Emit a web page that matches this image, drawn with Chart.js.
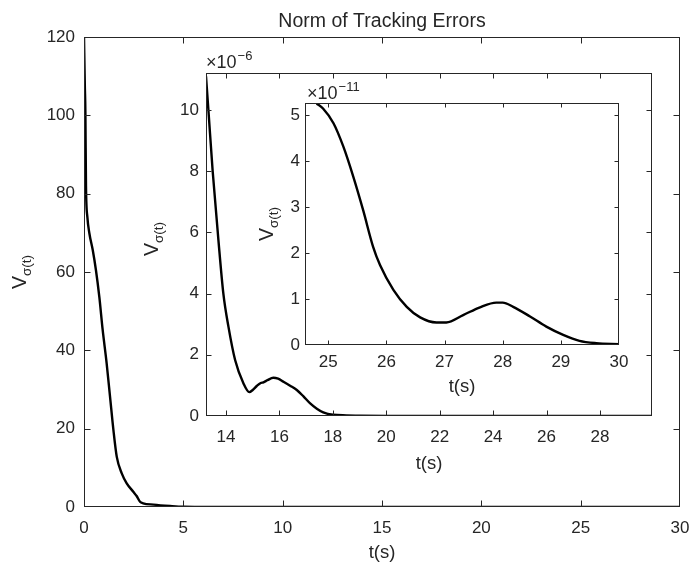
<!DOCTYPE html>
<html><head><meta charset="utf-8">
<script src="https://cdn.jsdelivr.net/npm/chart.js@4.4.0/dist/chart.umd.min.js"></script>
<style>
html,body{margin:0;padding:0;background:#fff;}
#wrap{position:relative;width:689px;height:565px;overflow:hidden;background:#fff;}
canvas{position:absolute;}
</style></head><body>
<div id="wrap">
<canvas id="c0" width="689" height="565" style="left:0px;top:0px"></canvas>
<canvas id="c1" width="540" height="440" style="left:120px;top:45px"></canvas>
<canvas id="c2" width="385" height="325" style="left:250px;top:75px"></canvas>
</div>
<script>
// ---------- data ----------
const titleText = 'Norm of Tracking Errors';
const xLabel = 't(s)';
const yLabelMain = 'V';
const yLabelSub = 'σ(t)';

// main plot
const mainT = [0, 0.04, 0.07, 0.1, 0.17, 0.27, 0.44, 0.6, 0.77, 0.94, 1.14, 1.31, 1.48, 1.65, 1.9, 2.15, 2.48, 2.65, 2.82, 2.98, 3.5, 4.33, 5, 6, 8, 10, 15, 20, 25, 30];
const mainV = [120, 108, 100.6, 82, 74, 69.9, 65.6, 60.5, 53.7, 45.2, 36.7, 28.2, 19.7, 12.8, 8.6, 6.05, 3.9, 2.8, 1.35, 0.94, 0.6, 0.25, 0.05, 0.01, 0, 0, 0, 0, 0, 0];
const mainXTicks = [0, 5, 10, 15, 20, 25, 30];
const mainYTicks = [0, 20, 40, 60, 80, 100, 120];

// inset 1 (x 1e-6)
const in1T = [13.25, 13.34, 13.5, 13.71, 13.9, 14.09, 14.34, 14.65, 14.87, 15.0, 15.15, 15.3, 15.4, 15.55, 15.77, 15.95, 16.15, 16.4, 16.65, 16.9, 17.14, 17.4, 17.64, 18.0, 18.5, 19, 20, 22, 24, 26, 28, 30];
const in1V = [11.1, 10.0, 8.0, 5.8, 4.0, 2.92, 1.83, 1.07, 0.78, 0.85, 0.98, 1.08, 1.1, 1.17, 1.25, 1.22, 1.12, 0.99, 0.85, 0.64, 0.42, 0.24, 0.12, 0.04, 0.02, 0.012, 0.005, 0.001, 0, 0, 0, 0];
const in1XTicks = [14, 16, 18, 20, 22, 24, 26, 28];
const in1YTicks = [0, 2, 4, 6, 8, 10];
const in1Exp = '−6';

// inset 2 (x 1e-11)
const in2T = [24.8, 24.91, 25.09, 25.26, 25.43, 25.6, 25.77, 25.89, 26.12, 26.35, 26.58, 26.86, 27.03, 27.32, 27.61, 27.89, 28.0, 28.18, 28.47, 28.75, 29.04, 29.32, 29.61, 30];
const in2V = [5.25, 5.14, 4.82, 4.31, 3.66, 2.93, 2.14, 1.74, 1.2, 0.83, 0.6, 0.49, 0.49, 0.65, 0.82, 0.92, 0.92, 0.83, 0.62, 0.4, 0.22, 0.09, 0.04, 0.02];
const in2XTicks = [25, 26, 27, 28, 29, 30];
const in2YTicks = [0, 1, 2, 3, 4, 5];
const in2Exp = '−11';

// ---------- style ----------
const FONT = '"Liberation Sans", Arial, Helvetica, sans-serif';
const INK = '#262626';

const decoPlugin = {
  id: 'deco',
  beforeDraw(chart) {
    const a = chart.chartArea, c = chart.ctx;
    c.save(); c.fillStyle = '#fff';
    c.fillRect(a.left, a.top, a.right - a.left, a.bottom - a.top);
    c.restore();
  },
  afterDraw(chart, args, o) {
    const a = chart.chartArea, c = chart.ctx, xs = chart.scales.x, ys = chart.scales.y;
    c.save();
    c.strokeStyle = INK; c.lineWidth = 1;
    const L = Math.round(a.left) + 0.5, R = Math.round(a.right) - 0.5;
    const T = Math.round(a.top) + 0.5, B = Math.round(a.bottom) - 0.5;
    const clamp = (v, lo, hi) => Math.min(hi, Math.max(lo, v));
    c.beginPath();
    xs.ticks.forEach(t => {
      const p = clamp(Math.round(xs.getPixelForValue(t.value)) + 0.5, L, R);
      c.moveTo(p, B); c.lineTo(p, B - o.tl);
      c.moveTo(p, T); c.lineTo(p, T + o.tl);
    });
    ys.ticks.forEach(t => {
      const p = clamp(Math.round(ys.getPixelForValue(t.value)) + 0.5, T, B);
      c.moveTo(L, p); c.lineTo(L + o.tl, p);
      c.moveTo(R, p); c.lineTo(R - o.tl, p);
    });
    c.stroke();
    c.strokeRect(L, T, R - L, B - T);
    c.fillStyle = INK;
    const ox = o.ox, oy = o.oy;
    if (o.title) {
      c.font = '19.5px ' + FONT; c.textAlign = 'center'; c.textBaseline = 'alphabetic';
      c.fillText(o.title.text, o.title.x - ox, o.title.y - oy);
    }
    if (o.xlabel) {
      c.font = '18.5px ' + FONT; c.textAlign = 'center'; c.textBaseline = 'alphabetic';
      c.fillText(xLabel, o.xlabel.x - ox, o.xlabel.y - oy);
    }
    if (o.ylabel) {
      c.save();
      c.translate(o.ylabel.x - ox, o.ylabel.y - oy);
      c.rotate(-Math.PI / 2);
      c.textAlign = 'left'; c.textBaseline = 'alphabetic';
      c.font = '19.5px ' + FONT; const wV = c.measureText(yLabelMain).width;
      c.font = '13.5px ' + FONT; const wS = c.measureText(yLabelSub).width;
      const s = -(wV + wS) / 2;
      c.font = '19.5px ' + FONT; c.fillText(yLabelMain, s, 0);
      c.font = '13.5px ' + FONT; c.fillText(yLabelSub, s + wV, 5);
      c.restore();
    }
    if (o.exp) {
      c.textAlign = 'left'; c.textBaseline = 'alphabetic';
      c.font = '18px ' + FONT;
      const x0 = o.exp.x - ox, y0 = o.exp.y - oy;
      c.fillText('×10', x0, y0);
      const w = c.measureText('×10').width;
      c.font = '13px ' + FONT;
      c.fillText(o.exp.text, x0 + w + 1, y0 - 8);
    }
    c.restore();
  }
};

function makeChart(id, box, area, T, V, xr, yr, xTicks, yTicks, tickPad, deco) {
  const yW = area.left - box.left;
  const padTop = area.top - box.top;
  const padRight = box.left + box.w - area.right;
  const xH = box.top + box.h - area.bottom;
  const pts = T.map((t, i) => ({ x: t, y: V[i] }));
  const tickFont = { family: FONT, size: 17 };
  deco.ox = box.left; deco.oy = box.top;
  return new Chart(document.getElementById(id), {
    type: 'line',
    data: { datasets: [{ data: pts, borderColor: '#000', borderWidth: 2.4, pointRadius: 0, fill: false, cubicInterpolationMode: 'monotone' }] },
    options: {
      responsive: false, animation: false, events: [],
      layout: { padding: { top: padTop, right: padRight, left: 0, bottom: 0 } },
      plugins: { legend: { display: false }, tooltip: { enabled: false }, title: { display: false }, deco: deco },
      scales: {
        x: {
          type: 'linear', position: 'bottom', min: xr[0], max: xr[1],
          grid: { display: false, drawTicks: false }, border: { display: false },
          afterBuildTicks: s => { s.ticks = xTicks.map(v => ({ value: v })); },
          afterFit: s => { s.height = xH; s.paddingLeft = 0; s.paddingRight = 0; },
          ticks: { font: tickFont, color: INK, padding: tickPad.x, maxRotation: 0, minRotation: 0, autoSkip: false, callback: v => String(v) }
        },
        y: {
          type: 'linear', position: 'left', min: yr[0], max: yr[1],
          grid: { display: false, drawTicks: false }, border: { display: false },
          afterBuildTicks: s => { s.ticks = yTicks.map(v => ({ value: v })); },
          afterFit: s => { s.width = yW; s.paddingTop = 0; s.paddingBottom = 0; },
          ticks: { font: tickFont, color: INK, padding: tickPad.y, autoSkip: false, callback: v => String(v) }
        }
      }
    },
    plugins: [decoPlugin]
  });
}

makeChart('c0', { left: 0, top: 0, w: 689, h: 565 }, { left: 84, top: 37, right: 680, bottom: 507 },
  mainT, mainV, [0, 30], [0, 120], mainXTicks, mainYTicks, { x: 11, y: 9 },
  { tl: 6, title: { text: titleText, x: 382, y: 27 }, xlabel: { x: 382, y: 558 }, ylabel: { x: 26, y: 272 } });

makeChart('c1', { left: 120, top: 45, w: 540, h: 440 }, { left: 206, top: 73, right: 652, bottom: 416 },
  in1T, in1V, [13.25, 29.95], [0, 11.21], in1XTicks, in1YTicks, { x: 11, y: 7 },
  { tl: 5, xlabel: { x: 429, y: 469 }, ylabel: { x: 158, y: 239 }, exp: { x: 206, y: 68, text: in1Exp } });

makeChart('c2', { left: 250, top: 75, w: 385, h: 325 }, { left: 305, top: 103, right: 619, bottom: 345 },
  in2T, in2V, [24.6, 30], [0, 5.26], in2XTicks, in2YTicks, { x: 7, y: 5 },
  { tl: 4, xlabel: { x: 462, y: 392 }, ylabel: { x: 273, y: 224 }, exp: { x: 307, y: 99, text: in2Exp } });
</script>
</body></html>
